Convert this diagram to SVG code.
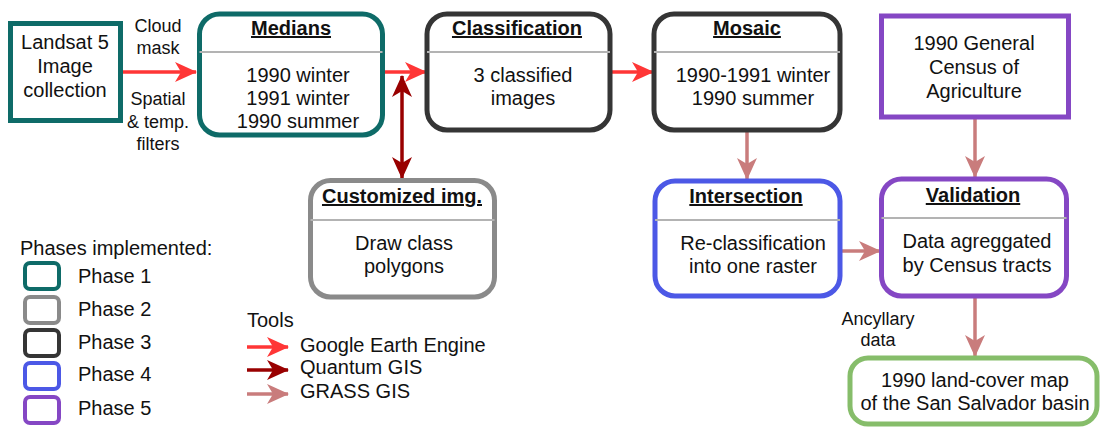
<svg xmlns="http://www.w3.org/2000/svg" width="1101" height="427" viewBox="0 0 1101 427">
<style>
text{font-family:"Liberation Sans",Arial,sans-serif;fill:#111;}
.t{font-size:20px;text-anchor:middle;}
.h{font-size:20px;font-weight:bold;text-anchor:middle;text-decoration:underline;}
.s{font-size:18px;text-anchor:middle;}
.l{font-size:20px;}
.box{fill:#fff;stroke-width:5;}
.div{stroke:#b3b3b3;stroke-width:2;}
.p1{stroke:#0e6b68;}.p2{stroke:#8a8a8a;}.p3{stroke:#353535;}.p4{stroke:#4c58e6;}.p5{stroke:#8547c4;}.p6{stroke:#86bd6a;}
.gee{stroke:#ff3636;stroke-width:3.5;fill:none;marker-end:url(#aGee);}
.qgis{stroke:#990000;stroke-width:3.5;fill:none;marker-end:url(#aQ);marker-start:url(#aQs);}
.grass{stroke:#c97c7c;stroke-width:3.5;fill:none;marker-end:url(#aG);}
</style>
<defs>
<marker id="aGee" markerUnits="userSpaceOnUse" markerWidth="22" markerHeight="20" refX="21" refY="10" orient="auto"><path d="M0,0 L22,10 L0,20 L6,10 z" fill="#ff3636"/></marker>
<marker id="aQ" markerUnits="userSpaceOnUse" markerWidth="22" markerHeight="20" refX="21" refY="10" orient="auto"><path d="M0,0 L22,10 L0,20 L6,10 z" fill="#990000"/></marker>
<marker id="aQs" markerUnits="userSpaceOnUse" markerWidth="22" markerHeight="20" refX="1" refY="10" orient="auto"><path d="M22,0 L0,10 L22,20 L16,10 z" fill="#990000"/></marker>
<marker id="aG" markerUnits="userSpaceOnUse" markerWidth="22" markerHeight="20" refX="21" refY="10" orient="auto"><path d="M0,0 L22,10 L0,20 L6,10 z" fill="#c97c7c"/></marker>
</defs>
<rect width="1101" height="427" fill="#fff"/>

<g id="connectors">
<line class="gee" x1="122" y1="72" x2="196" y2="72"/>
<line class="gee" x1="384" y1="72" x2="426" y2="72"/>
<line class="gee" x1="611" y1="72" x2="653" y2="72"/>
<line class="qgis" x1="402" y1="76" x2="402" y2="178"/>
<line class="grass" x1="747" y1="132" x2="747" y2="179"/>
<line class="grass" x1="975" y1="119" x2="975" y2="177"/>
<line class="grass" x1="842" y1="251" x2="880" y2="251"/>
<line class="grass" x1="975" y1="298" x2="975" y2="356"/>
</g>

<g id="edge-labels">
<text class="s" x="158" y="32">Cloud</text>
<text class="s" x="158" y="54">mask</text>
<text class="s" x="158" y="105">Spatial</text>
<text class="s" x="158" y="128">&amp; temp.</text>
<text class="s" x="158" y="150">filters</text>
<text class="s" x="878" y="325">Ancyllary</text>
<text class="s" x="878" y="346">data</text>
</g>

<g id="landsat">
<rect class="box p1" x="10.5" y="23.5" width="110" height="97"/>
<text class="t" x="65" y="49">Landsat 5</text>
<text class="t" x="65" y="73">Image</text>
<text class="t" x="65" y="97">collection</text>
</g>

<g id="medians">
<rect class="box p1" x="199.5" y="14" width="183" height="121" rx="20"/>
<line class="div" x1="199.5" y1="52" x2="382.5" y2="52"/>
<text class="h" x="291" y="35">Medians</text>
<text class="t" x="298" y="82">1990 winter</text>
<text class="t" x="298" y="105">1991 winter</text>
<text class="t" x="298" y="128">1990 summer</text>
</g>

<g id="classification">
<rect class="box p3" x="427" y="14" width="183" height="116" rx="20"/>
<line class="div" x1="427" y1="52" x2="610" y2="52"/>
<text class="h" x="517" y="35">Classification</text>
<text class="t" x="523" y="82">3 classified</text>
<text class="t" x="523" y="105">images</text>
</g>

<g id="mosaic">
<rect class="box p3" x="654" y="14" width="186" height="116" rx="20"/>
<line class="div" x1="654" y1="52" x2="840" y2="52"/>
<text class="h" x="747" y="35">Mosaic</text>
<text class="t" x="753" y="82">1990-1991 winter</text>
<text class="t" x="753" y="105">1990 summer</text>
</g>

<g id="census">
<rect class="box p5" x="881.5" y="16" width="187" height="101"/>
<text class="t" x="974" y="50">1990 General</text>
<text class="t" x="974" y="74">Census of</text>
<text class="t" x="974" y="98">Agriculture</text>
</g>

<g id="customized">
<rect class="box p2" x="310.5" y="180.5" width="184" height="116.5" rx="20"/>
<line class="div" x1="310.5" y1="220" x2="494.5" y2="220"/>
<text class="h" x="402" y="203">Customized img.</text>
<text class="t" x="404" y="250">Draw class</text>
<text class="t" x="404" y="273">polygons</text>
</g>

<g id="intersection">
<rect class="box p4" x="655" y="181" width="185" height="115" rx="20"/>
<line class="div" x1="655" y1="220" x2="840" y2="220"/>
<text class="h" x="746" y="203">Intersection</text>
<text class="t" x="753" y="250">Re-classification</text>
<text class="t" x="753" y="273">into one raster</text>
</g>

<g id="validation">
<rect class="box p5" x="881.5" y="179" width="185" height="117" rx="20"/>
<line class="div" x1="881.5" y1="218" x2="1066.5" y2="218"/>
<text class="h" x="973" y="202">Validation</text>
<text class="t" x="977" y="248">Data agreggated</text>
<text class="t" x="977" y="272">by Census tracts</text>
</g>

<g id="final">
<rect class="box p6" x="850" y="358" width="247" height="66" rx="18"/>
<text class="t" x="975" y="387">1990 land-cover map</text>
<text class="t" x="975" y="410">of the San Salvador basin</text>
</g>

<g id="legend-phases">
<text class="l" x="20" y="255">Phases implemented:</text>
<rect class="box p1" x="25" y="263" width="34" height="26" rx="5" style="stroke-width:4"/>
<rect class="box p2" x="25" y="297" width="34" height="26" rx="5" style="stroke-width:4"/>
<rect class="box p3" x="25" y="330" width="34" height="26" rx="5" style="stroke-width:4"/>
<rect class="box p4" x="25" y="363" width="34" height="26" rx="5" style="stroke-width:4"/>
<rect class="box p5" x="25" y="397" width="34" height="26" rx="5" style="stroke-width:4"/>
<text class="l" x="78" y="283">Phase 1</text>
<text class="l" x="78" y="316">Phase 2</text>
<text class="l" x="78" y="349">Phase 3</text>
<text class="l" x="78" y="381">Phase 4</text>
<text class="l" x="78" y="415">Phase 5</text>
</g>

<g id="legend-tools">
<text class="l" x="247" y="327">Tools</text>
<line class="gee" x1="247" y1="347" x2="288" y2="347"/>
<line x1="247" y1="370" x2="288" y2="370" stroke="#990000" stroke-width="3.5" marker-end="url(#aQ)"/>
<line class="grass" x1="247" y1="394" x2="288" y2="394"/>
<text class="l" x="300" y="352">Google Earth Engine</text>
<text class="l" x="300" y="374">Quantum GIS</text>
<text class="l" x="300" y="398">GRASS GIS</text>
</g>
</svg>
